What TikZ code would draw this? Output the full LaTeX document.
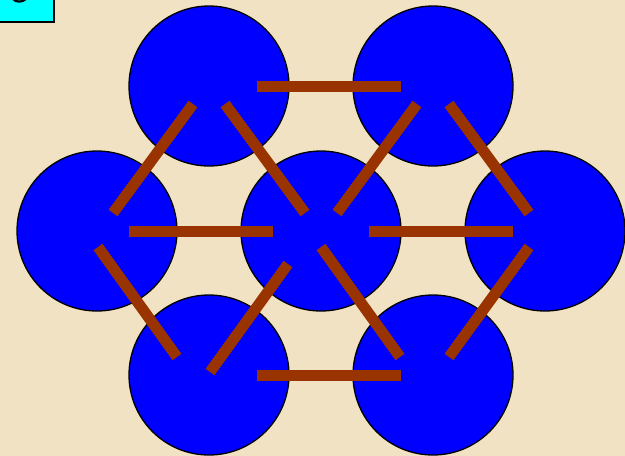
\documentclass[tikz,border=0pt]{standalone}
\definecolor{parch}{HTML}{F1E2C3}
\definecolor{rodbrown}{HTML}{993300}
\definecolor{ballblue}{HTML}{0000FF}
\definecolor{boxcyan}{HTML}{00FFFF}
\begin{document}
\begin{tikzpicture}[x=1pt,y=-1pt,
  ball/.style={circle, draw=black, line width=1.3pt, fill=ballblue, minimum size=160pt, inner sep=0pt},
  rod/.style={draw=rodbrown, line width=11pt}]
\useasboundingbox (0,0) rectangle (625,456);
\fill[parch] (0,0) rectangle (625,456);
% corner box
\draw[fill=boxcyan, line width=1.3pt] (-3,-3) rectangle (54,22);
\draw[line width=2.2pt] (13,-1) .. controls (16,2.5) and (22,2.5) .. (26,-1);
% balls
\node[ball] (tl) at (209,86) {};
\node[ball] (tr) at (433,86) {};
\node[ball] (ml) at (97,231) {};
\node[ball] (c)  at (321,231) {};
\node[ball] (mr) at (545,231) {};
\node[ball] (bl) at (209,375) {};
\node[ball] (br) at (433,375) {};
% rods
\draw[rod] (257,86.5) -- (401,86.5);
\draw[rod] (129,231) -- (273,231);
\draw[rod] (369,231) -- (513,231);
\draw[rod] (257,375) -- (401,375);
\draw[rod] (193,104) -- (113,213);
\draw[rod] (225,104) -- (305,213);
\draw[rod] (417,104) -- (337,213);
\draw[rod] (449,104) -- (529,213);
\draw[rod] (98,247) -- (177,357);
\draw[rod] (288,264) -- (210,372);
\draw[rod] (321,247) -- (400,357);
\draw[rod] (529,247) -- (449,357);
\end{tikzpicture}
\end{document}
